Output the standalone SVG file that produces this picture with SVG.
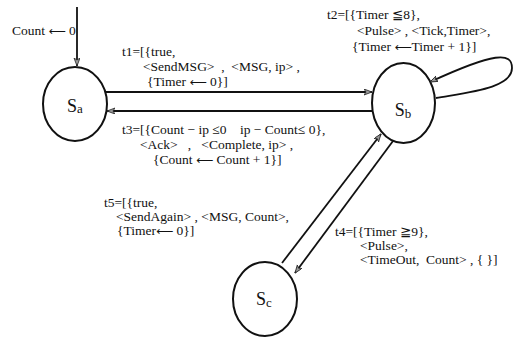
<svg xmlns="http://www.w3.org/2000/svg" width="516" height="337" viewBox="0 0 516 337">
<style>
.st{fill:none;stroke:#111;stroke-width:2}
.ln{fill:none;stroke:#111;stroke-width:1.8}
.tx{font-family:"Liberation Serif","DejaVu Serif","DejaVu Sans",serif;font-size:13.5px;fill:#111;white-space:pre}
.ar{font-family:"DejaVu Sans",sans-serif;font-size:12px}
.lb{font-family:"Liberation Serif","DejaVu Serif",serif;font-size:18px;fill:#111;text-anchor:middle}
</style>
<defs>
<marker id="ah" markerUnits="userSpaceOnUse" markerWidth="10" markerHeight="8" refX="8" refY="3" orient="auto">
<path d="M0,0 L8,3 L0,6 L2,3 Z" fill="#999" stroke="#222" stroke-width="0.8"/>
</marker>
</defs>
<rect width="516" height="337" fill="#fff"/>
<g id="Sa">
<ellipse class="st" cx="75" cy="104" rx="32" ry="37"/>
<text class="lb" x="75" y="112">S<tspan font-size="13" dy="1">a</tspan></text>
</g>
<g id="Sb">
<ellipse class="st" cx="403.5" cy="103" rx="31.5" ry="40"/>
<text class="lb" x="403" y="116">S<tspan font-size="13" dy="2">b</tspan></text>
</g>
<g id="Sc">
<ellipse class="st" cx="265" cy="299" rx="32" ry="37"/>
<text class="lb" x="264" y="305">S<tspan font-size="13" dy="2">c</tspan></text>
</g>
<g id="connectors">
<line class="ln" x1="77" y1="7" x2="77" y2="66" marker-end="url(#ah)"/>
<line class="ln" x1="105" y1="92" x2="372" y2="92" marker-end="url(#ah)"/>
<line class="ln" x1="373" y1="111" x2="107" y2="111" marker-end="url(#ah)"/>
<path class="ln" d="M436,98 C470,92 512,88 512,68 C512,52 495,52 430,82" marker-end="url(#ah)"/>
<line class="ln" x1="282" y1="263" x2="381" y2="134" marker-end="url(#ah)"/>
<line class="ln" x1="393" y1="141" x2="295" y2="273" marker-end="url(#ah)"/>
</g>
<g id="labels" xml:space="preserve">
<text class="tx" x="12" y="35">Count <tspan class="ar">⟵</tspan> 0</text>
<text class="tx" x="122" y="56">t1=[{true,</text>
<text class="tx" x="143" y="71">&lt;SendMSG&gt;  ,  &lt;MSG, ip&gt; ,</text>
<text class="tx" x="147" y="86">{Timer <tspan class="ar">⟵</tspan> 0}]</text>
<text class="tx" x="327" y="19">t2=[{Timer ≦8},</text>
<text class="tx" x="357" y="35">&lt;Pulse&gt; , &lt;Tick,Timer&gt;,</text>
<text class="tx" x="352" y="51">{Timer <tspan class="ar">⟵</tspan>Timer + 1}]</text>
<text class="tx" x="122" y="134">t3=[{Count − ip ≤0    ip − Count≤ 0},</text>
<text class="tx" x="140" y="149">&lt;Ack&gt;   ,   &lt;Complete, ip&gt; ,</text>
<text class="tx" x="153" y="164">{Count <tspan class="ar">⟵</tspan> Count + 1}]</text>
<text class="tx" x="104" y="207">t5=[{true,</text>
<text class="tx" x="116" y="221">&lt;SendAgain&gt; , &lt;MSG, Count&gt;,</text>
<text class="tx" x="117" y="235">{Timer<tspan class="ar">⟵</tspan> 0}]</text>
<text class="tx" x="335" y="236">t4=[{Timer ≧9},</text>
<text class="tx" x="360" y="250">&lt;Pulse&gt;,</text>
<text class="tx" x="360" y="264">&lt;TimeOut,  Count&gt; , { }]</text>
</g>
</svg>
